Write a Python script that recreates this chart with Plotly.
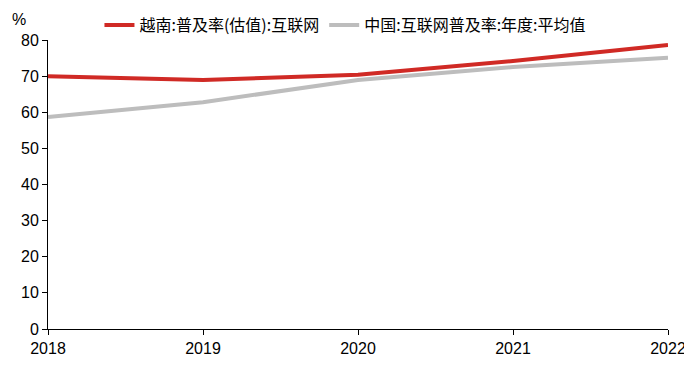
import plotly.graph_objects as go

years = [2018, 2019, 2020, 2021, 2022]
vietnam = [70.0, 68.9, 70.4, 74.2, 78.6]
china = [58.7, 62.8, 68.9, 72.5, 75.1]
names = ["越南:普及率(估值):互联网", "中国:互联网普及率:年度:平均值"]
yticks = [0, 10, 20, 30, 40, 50, 60, 70, 80]

fig = go.Figure()
fig.add_trace(go.Scatter(x=years, y=vietnam, mode="lines", name=names[0],
                         line=dict(color="#d02a25", width=4)))
fig.add_trace(go.Scatter(x=years, y=china, mode="lines", name=names[1],
                         line=dict(color="#bdbdbd", width=4)))

fig.update_layout(
    width=692, height=367,
    margin=dict(l=40, r=32, t=32, b=46, autoexpand=False),
    plot_bgcolor="white", paper_bgcolor="white",
    font=dict(family="Liberation Sans, Arial, sans-serif", size=16, color="#000"),
    showlegend=True,
    legend=dict(orientation="h", x=0.083, y=1.0, xref="paper", yref="container",
                xanchor="left", yanchor="top",
                font=dict(family="Noto Sans CJK SC", size=16, color="#000"),
                itemwidth=30, tracegroupgap=0),
    xaxis=dict(range=[2018, 2022], tickvals=years, showline=True, linecolor="#000",
               linewidth=1, ticks="outside", ticklen=5, tickcolor="#000",
               showgrid=False, zeroline=False, tickfont=dict(size=16)),
    yaxis=dict(range=[0, 80], tickvals=yticks, showline=True, linecolor="#000",
               linewidth=1, ticks="outside", ticklen=5, tickcolor="#000",
               showgrid=False, zeroline=False, tickfont=dict(size=16)),
    annotations=[dict(text="%", x=-0.062, y=1.07, xref="paper", yref="paper",
                      xanchor="left", yanchor="middle",
                      showarrow=False, font=dict(size=16))],
)
fig.write_html("out.html")
